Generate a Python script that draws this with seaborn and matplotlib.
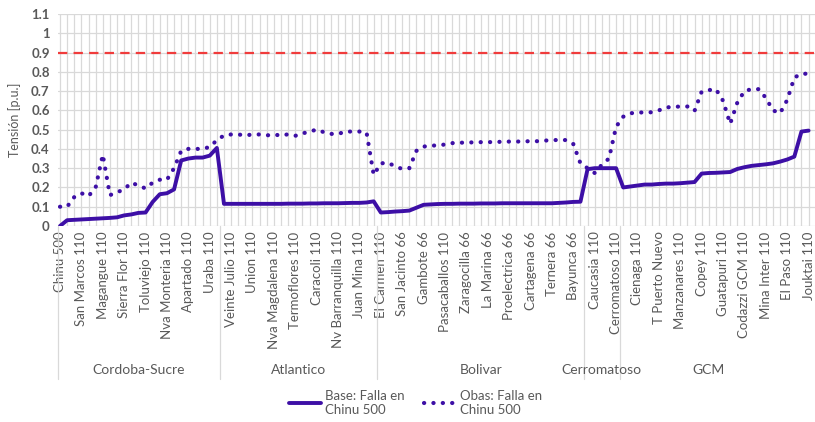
import numpy as np
import pandas as pd
import seaborn as sns
import matplotlib
matplotlib.use("Agg")
from matplotlib import pyplot as plt
import matplotlib.transforms as mtransforms
from matplotlib.lines import Line2D

# visible category labels (every third bus is labelled on the axis)
tick_labels = [
    "Chinu 500", "San Marcos 110", "Magangue 110", "Sierra Flor 110", "Toluviejo 110",
    "Nva Monteria 110", "Apartado 110", "Uraba 110", "Veinte Julio 110", "Union 110",
    "Nva Magdalena 110", "Termoflores 110", "Caracoli 110", "Nv Barranquilla 110",
    "Juan Mina 110", "El Carmen 110", "San Jacinto 66", "Gambote 66", "Pasacaballos 110",
    "Zaragocilla 66", "La Marina 66", "Proelectrica 66", "Cartagena 66", "Ternera 66",
    "Bayunca 66", "Caucasia 110", "Cerromatoso 110", "Cienaga 110", "T Puerto Nuevo",
    "Manzanares 110", "Copey 110", "Guatapuri 110", "Codazzi GCM 110", "Mina Inter 110",
    "El Paso 110", "Jouktai 110",
]
label_step = 3

groups = ["Cordoba-Sucre", "Atlantico", "Bolivar", "Cerromatoso", "GCM"]
group_sizes = [23, 22, 29, 5, 27]

base_values = [
    0.000, 0.030, 0.032, 0.034, 0.036, 0.038, 0.040, 0.042, 0.045, 0.055,
    0.060, 0.068, 0.070, 0.125, 0.165, 0.170, 0.190, 0.340, 0.350, 0.355,
    0.355, 0.365, 0.405, 0.115, 0.115, 0.115, 0.115, 0.115, 0.115, 0.115,
    0.115, 0.115, 0.116, 0.116, 0.116, 0.117, 0.117, 0.118, 0.118, 0.118,
    0.119, 0.120, 0.120, 0.122, 0.128, 0.070, 0.072, 0.075, 0.077, 0.080,
    0.095, 0.110, 0.112, 0.114, 0.115, 0.115, 0.116, 0.116, 0.116, 0.117,
    0.117, 0.117, 0.118, 0.118, 0.118, 0.118, 0.118, 0.118, 0.118, 0.118,
    0.120, 0.122, 0.125, 0.126, 0.295, 0.300, 0.300, 0.300, 0.300, 0.200,
    0.205, 0.210, 0.215, 0.215, 0.218, 0.220, 0.220, 0.222, 0.225, 0.228,
    0.272, 0.275, 0.276, 0.278, 0.280, 0.296, 0.305, 0.312, 0.316, 0.320,
    0.325, 0.334, 0.345, 0.360, 0.490, 0.495,
]

obas_values = [
    0.100, 0.100, 0.150, 0.170, 0.155, 0.200, 0.370, 0.160, 0.175, 0.190,
    0.225, 0.210, 0.195, 0.225, 0.240, 0.240, 0.300, 0.390, 0.400, 0.400,
    0.400, 0.410, 0.445, 0.470, 0.475, 0.475, 0.470, 0.475, 0.475, 0.470,
    0.475, 0.469, 0.476, 0.468, 0.480, 0.490, 0.500, 0.487, 0.478, 0.477,
    0.490, 0.490, 0.490, 0.485, 0.265, 0.325, 0.328, 0.310, 0.296, 0.300,
    0.390, 0.412, 0.417, 0.418, 0.423, 0.430, 0.432, 0.433, 0.434, 0.435,
    0.435, 0.436, 0.437, 0.438, 0.438, 0.439, 0.440, 0.440, 0.443, 0.446,
    0.446, 0.446, 0.425, 0.325, 0.300, 0.275, 0.318, 0.350, 0.515, 0.567,
    0.585, 0.588, 0.590, 0.590, 0.600, 0.615, 0.618, 0.620, 0.620, 0.597,
    0.697, 0.705, 0.710, 0.650, 0.530, 0.640, 0.700, 0.710, 0.710, 0.665,
    0.600, 0.585, 0.654, 0.770, 0.790, 0.790,
]

limit_value = 0.9

n = len(base_values)
df = pd.DataFrame({"idx": np.arange(n), "Base": base_values, "Obas": obas_values})

sns.set_theme(style="white")
plt.rcParams["font.family"] = ["Lato", "DejaVu Sans"]

text_color = "#595959"
line_color = "#3d0fa6"
grid_color = "#d9d9d9"
dotted = (0, (0.05, 2.2))

fig = plt.figure(figsize=(8.15, 4.22), dpi=100)
ax = fig.add_axes([58 / 815, 196 / 422, 757 / 815, 212 / 422])

sns.lineplot(data=df, x="idx", y="Base", ax=ax, color=line_color, linewidth=2.8,
             solid_capstyle="round", solid_joinstyle="round")
sns.lineplot(data=df, x="idx", y="Obas", ax=ax, color=line_color, linewidth=3.0,
             linestyle=dotted, dash_capstyle="round")
ax.axhline(limit_value, color="#f03c3c", linewidth=1.6, linestyle=(0, (4.2, 2.8)))

ax.set_xlim(-0.28, 105.9)
ax.set_ylim(0, 1.1)
ax.set_yticks(np.round(np.arange(0, 1.11, 0.1), 1))
ax.set_yticklabels(["0", "0.1", "0.2", "0.3", "0.4", "0.5", "0.6", "0.7", "0.8", "0.9", "1", "1.1"])

full_labels = [""] * n
for k, lab in enumerate(tick_labels):
    full_labels[k * label_step] = lab
ax.set_xticks(np.arange(n))
ax.set_xticklabels(full_labels, rotation=90, fontsize=9.5, color=text_color)
ax.tick_params(axis="both", length=0)
ax.tick_params(axis="x", pad=4)
ax.tick_params(axis="y", labelsize=9.5, labelcolor=text_color, pad=6)
for t in ax.get_yticklabels():
    t.set_fontweight("bold")

ax.grid(True, color=grid_color, linewidth=0.9)
for s in ax.spines.values():
    s.set_visible(False)
ax.set_axisbelow(True)

ax.set_xlabel("")
ax.set_ylabel("Tensión [p.u.]", fontsize=9, color=text_color, labelpad=7)

# group separators and names under the labels
trans = mtransforms.blended_transform_factory(ax.transData, ax.transAxes)
edges = np.concatenate([[-0.28], np.cumsum(group_sizes)[:-1] - 0.5])
for e in edges:
    ax.plot([e, e], [0, -0.72], transform=trans, color=grid_color, linewidth=0.9, clip_on=False)
start = 0
for name, size in zip(groups, group_sizes):
    center = start + (size - 1) / 2
    if name == "GCM":
        center -= 1
    ax.text(center, -0.68, name, transform=trans, ha="center", va="center",
            fontsize=10, color=text_color)
    start += size

handles = [
    Line2D([0], [0], color=line_color, linewidth=2.8),
    Line2D([0], [0], color=line_color, linewidth=3.0, linestyle=dotted, dash_capstyle="round"),
]
fig.legend(handles, ["Base: Falla en\nChinu 500", "Obas: Falla en\nChinu 500"],
           loc="center", bbox_to_anchor=(0.51, 0.045), ncol=2, frameon=False,
           fontsize=9.5, labelcolor=text_color, handlelength=2.4, handletextpad=0.3,
           columnspacing=1.5)

fig.savefig("out.png", dpi=100)
